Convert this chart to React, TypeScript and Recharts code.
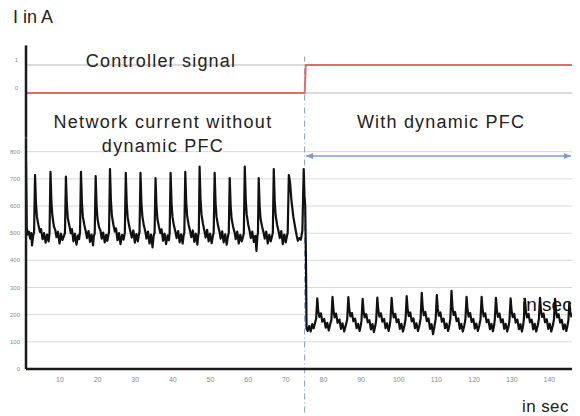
import React from 'react';
import { ComposedChart, Line, XAxis, YAxis, ReferenceLine } from 'recharts';

// ---- axis ticks ----
const timeTicks = [10, 20, 30, 40, 50, 60, 70, 80, 90, 100, 110, 120, 130, 140];
const currentTicks = [0, 100, 200, 300, 400, 500, 600, 700, 800];
const signalTicks = [0, 1];

// ---- controller signal (0 = off, 1 = dynamic PFC on) ----
const signalTimes = [1, 75, 75.3, 146];
const signalValues = [0, 0, 1, 1];

// ---- moment the PFC is switched on ----
const switchTime = 75;

// ---- span of the "with dynamic PFC" arrow ----
const arrowTimes = [75.4, 145.7];
const arrowLevel = 784;

// ---- network current without dynamic PFC [time s, current A] ----
const currentBefore: [number, number][] = [
  [1.0, 765], [1.2, 520], [1.5, 495], [1.8, 505], [2.1, 480], [2.4, 500], [2.6, 455], [2.9, 490], [3.15, 505],
  [3.4, 714], [3.65, 610], [3.9, 560], [4.3, 530], [4.7, 505], [5.0, 515], [5.4, 478], [5.8, 500], [6.2, 465], [6.6, 495], [7.0, 470], [7.25, 500],
  [7.5, 726], [7.75, 615], [8.0, 565], [8.4, 525], [8.8, 510], [9.1, 485], [9.5, 505], [9.9, 462], [10.3, 498], [10.7, 475], [11.1, 490], [11.35, 502],
  [11.6, 708], [11.85, 605], [12.1, 555], [12.5, 528], [12.9, 500], [13.2, 515], [13.6, 470], [14.0, 498], [14.4, 458], [14.8, 492], [15.1, 478], [15.35, 505],
  [15.6, 726], [15.85, 612], [16.1, 560], [16.5, 530], [16.9, 505], [17.2, 482], [17.6, 508], [18.0, 468], [18.4, 495], [18.8, 455], [19.0, 488], [19.25, 500],
  [19.5, 710], [19.75, 600], [20.0, 552], [20.4, 522], [20.8, 508], [21.1, 480], [21.5, 502], [21.9, 466], [22.3, 494], [22.6, 472], [22.85, 490], [23.05, 505],
  [23.3, 736], [23.55, 620], [23.8, 566], [24.2, 532], [24.6, 506], [24.9, 518], [25.3, 474], [25.7, 500], [26.1, 460], [26.5, 494], [26.9, 476], [27.25, 502],
  [27.5, 722], [27.75, 608], [28.0, 558], [28.4, 526], [28.8, 502], [29.1, 484], [29.5, 510], [29.9, 465], [30.3, 497], [30.7, 470], [30.95, 492], [31.15, 505],
  [31.4, 722], [31.65, 612], [31.9, 562], [32.3, 528], [32.7, 505], [33.0, 480], [33.4, 506], [33.8, 462], [34.2, 495], [34.6, 448], [34.9, 490], [35.15, 502],
  [35.4, 703], [35.65, 600], [35.9, 552], [36.3, 524], [36.7, 500], [37.0, 514], [37.4, 472], [37.8, 498], [38.2, 460], [38.6, 492], [38.95, 474], [39.15, 500],
  [39.4, 722], [39.65, 610], [39.9, 560], [40.3, 527], [40.7, 504], [41.0, 482], [41.4, 508], [41.8, 466], [42.2, 496], [42.6, 462], [42.85, 490], [43.05, 503],
  [43.3, 726], [43.55, 614], [43.8, 563], [44.2, 530], [44.6, 506], [44.9, 485], [45.3, 510], [45.7, 468], [46.1, 498], [46.5, 458], [46.75, 492], [46.9, 504],
  [47.1, 745], [47.35, 625], [47.6, 570], [48.0, 534], [48.4, 508], [48.7, 484], [49.1, 512], [49.5, 470], [49.9, 498], [50.3, 463], [50.65, 490], [50.85, 503],
  [51.1, 722], [51.35, 610], [51.6, 560], [52.0, 528], [52.4, 504], [52.7, 480], [53.1, 507], [53.5, 466], [53.9, 496], [54.3, 458], [54.65, 490], [54.85, 502],
  [55.1, 703], [55.35, 602], [55.6, 553], [56.0, 524], [56.4, 502], [56.7, 478], [57.1, 506], [57.5, 462], [57.9, 494], [58.3, 470], [58.65, 488], [58.85, 500],
  [59.1, 745], [59.35, 626], [59.6, 570], [60.0, 533], [60.4, 507], [60.7, 482], [61.1, 506], [61.5, 468], [61.9, 490], [62.2, 435], [62.45, 488], [62.6, 502],
  [62.8, 703], [63.05, 600], [63.3, 552], [63.7, 524], [64.1, 502], [64.4, 480], [64.8, 506], [65.2, 462], [65.6, 494], [66.0, 470], [66.35, 490], [66.55, 502],
  [66.8, 736], [67.05, 618], [67.3, 565], [67.7, 530], [68.1, 505], [68.4, 482], [68.8, 508], [69.2, 460], [69.6, 495], [70.0, 466], [70.3, 490], [70.5, 502],
  [70.8, 714], [71.1, 690], [71.5, 620], [72.0, 560], [72.5, 520], [72.9, 490], [73.2, 472], [73.6, 482], [74.0, 476], [74.4, 510],
  [74.75, 736], [74.95, 640], [75.15, 600], [75.35, 400],
];

// ---- network current with dynamic PFC [time s, current A] ----
const currentAfter: [number, number][] = [
  [75.5, 150], [75.8, 140], [76.2, 158], [76.6, 138], [77.0, 165], [77.4, 150], [77.8, 172], [78.05, 185],
  [78.35, 260], [78.6, 215], [78.9, 192], [79.3, 205], [79.7, 174], [80.2, 184], [80.6, 152], [81.0, 170], [81.4, 142], [81.8, 166], [82.1, 180],
  [82.4, 266], [82.65, 218], [82.95, 190], [83.35, 204], [83.75, 170], [84.25, 182], [84.65, 148], [85.05, 168], [85.5, 138], [85.95, 162], [86.3, 182],
  [86.6, 265], [86.85, 220], [87.15, 194], [87.55, 206], [87.95, 176], [88.4, 185], [88.8, 150], [89.2, 166], [89.6, 140], [89.9, 160], [90.1, 178],
  [90.4, 258], [90.65, 214], [90.95, 190], [91.35, 202], [91.75, 172], [92.2, 180], [92.6, 146], [93.0, 165], [93.4, 136], [93.75, 158], [94.0, 180],
  [94.3, 263], [94.55, 218], [94.85, 193], [95.25, 205], [95.65, 174], [96.1, 184], [96.5, 150], [96.9, 168], [97.3, 140], [97.6, 160], [97.8, 182],
  [98.1, 262], [98.35, 216], [98.65, 190], [99.05, 203], [99.45, 172], [99.9, 183], [100.3, 148], [100.7, 166], [101.1, 138], [101.5, 160], [101.8, 184],
  [102.1, 268], [102.35, 220], [102.65, 195], [103.05, 208], [103.45, 175], [103.9, 186], [104.3, 150], [104.7, 168], [105.1, 140], [105.5, 162], [105.8, 186],
  [106.1, 280], [106.35, 226], [106.65, 198], [107.05, 210], [107.45, 176], [107.9, 186], [108.3, 148], [108.7, 165], [109.1, 128], [109.5, 160], [109.8, 184],
  [110.1, 272], [110.35, 222], [110.65, 196], [111.05, 208], [111.45, 174], [111.9, 185], [112.3, 150], [112.7, 167], [113.1, 140], [113.45, 162], [113.7, 186],
  [114.0, 288], [114.25, 228], [114.55, 199], [114.95, 210], [115.35, 176], [115.8, 186], [116.2, 148], [116.6, 166], [117.0, 138], [117.4, 160], [117.7, 184],
  [118.0, 266], [118.25, 218], [118.55, 193], [118.95, 206], [119.35, 173], [119.8, 184], [120.2, 149], [120.6, 167], [121.0, 140], [121.4, 161], [121.7, 183],
  [122.0, 266], [122.25, 219], [122.55, 194], [122.95, 205], [123.35, 172], [123.8, 182], [124.2, 147], [124.6, 166], [125.0, 139], [125.3, 160], [125.5, 182],
  [125.8, 262], [126.05, 216], [126.35, 192], [126.75, 204], [127.15, 172], [127.6, 183], [128.0, 148], [128.4, 166], [128.8, 138], [129.2, 160], [129.4, 181],
  [129.7, 260], [129.95, 215], [130.25, 191], [130.65, 203], [131.05, 171], [131.5, 182], [131.9, 147], [132.3, 165], [132.7, 138], [133.0, 159], [133.2, 180],
  [133.5, 258], [133.75, 214], [134.05, 190], [134.45, 203], [134.85, 172], [135.3, 182], [135.7, 146], [136.1, 166], [136.5, 138], [136.9, 160], [137.2, 182],
  [137.5, 262], [137.75, 216], [138.05, 192], [138.45, 204], [138.85, 172], [139.3, 183], [139.7, 148], [140.1, 166], [140.5, 138], [140.9, 160], [141.2, 181],
  [141.5, 258], [141.75, 214], [142.05, 190], [142.45, 202], [142.85, 171], [143.3, 181], [143.7, 146], [144.1, 164], [144.5, 140], [144.8, 160], [145.05, 180],
  [145.3, 245], [145.55, 210], [145.9, 190],
];

const currentData = [...currentBefore, ...currentAfter].map(([t, a]) => ({ t, a }));
const signalData = signalTimes.map((t, i) => ({ t, s: signalValues[i] }));
const arrowData = arrowTimes.map((t) => ({ t, v: arrowLevel }));

const W = 580;
const H = 416;
const FONT = "'Liberation Sans', Arial, sans-serif";
const AXIS = '#1a1a1a';
const GRID = '#d9d9d9';
const TICK = '#8a8a8a';
const BLUE = '#7d9cc9';

const ArrowHead = (props: any) => {
  const { cx, cy, index } = props;
  if (cx == null || cy == null) return null;
  const d = index === 0
    ? `M${cx},${cy} L${cx + 7},${cy - 3} L${cx + 7},${cy + 3} Z`
    : `M${cx},${cy} L${cx - 7},${cy - 3} L${cx - 7},${cy + 3} Z`;
  return <path key={`ah-${index}`} d={d} fill={BLUE} stroke="none" />;
};

export default function App() {
  return (
    <div style={{ position: 'absolute', left: 0, top: 0, width: W, height: H, background: '#fff', fontFamily: FONT, overflow: 'hidden' }}>
      {/* network current */}
      <div style={{ position: 'absolute', left: 0, top: 0 }}>
        <ComposedChart width={W} height={H} data={currentData} margin={{ top: 138.1, right: 8, bottom: 17, left: 0 }}>
          <XAxis
            dataKey="t"
            type="number"
            domain={[1, 146]}
            ticks={timeTicks}
            allowDataOverflow
            height={30}
            tickLine={false}
            axisLine={{ stroke: AXIS, strokeWidth: 2.5 }}
            tick={{ fontSize: 7, fill: TICK, fontFamily: FONT }}
            tickMargin={2}
          />
          <YAxis
            type="number"
            domain={[0, 850]}
            ticks={currentTicks}
            allowDataOverflow
            width={26}
            tickLine={false}
            axisLine={{ stroke: AXIS, strokeWidth: 2.5 }}
            tick={{ fontSize: 6, fill: TICK, fontFamily: FONT }}
            tickMargin={0}
          />
          {currentTicks.filter((v) => v > 0).map((v) => (
            <ReferenceLine key={`g-${v}`} y={v} stroke={GRID} strokeWidth={1} />
          ))}
          <ReferenceLine
            segment={[{ x: switchTime, y: -160 }, { x: switchTime, y: 1150 }]}
            stroke={BLUE}
            strokeWidth={1}
            strokeDasharray="6 3 1 3"
            ifOverflow="visible"
          />
          <Line
            dataKey="a"
            type="linear"
            stroke="#111"
            strokeWidth={2.2}
            strokeLinejoin="round"
            dot={false}
            isAnimationActive={false}
          />
          <Line
            data={arrowData}
            dataKey="v"
            type="linear"
            stroke={BLUE}
            strokeWidth={1.6}
            dot={<ArrowHead />}
            activeDot={false}
            isAnimationActive={false}
          />
        </ComposedChart>
      </div>

      {/* controller signal */}
      <div style={{ position: 'absolute', left: 0, top: 0 }}>
        <ComposedChart width={W} height={150} data={signalData} margin={{ top: 45.4, right: 8, bottom: 12.2, left: 0 }}>
          <XAxis dataKey="t" type="number" domain={[1, 146]} hide allowDataOverflow />
          <YAxis
            type="number"
            domain={[-1.6, 1.7]}
            ticks={signalTicks}
            allowDataOverflow
            width={26}
            tickLine={false}
            axisLine={{ stroke: AXIS, strokeWidth: 2.5 }}
            tick={{ fontSize: 6, fill: TICK, fontFamily: FONT, dy: -5 }}
            tickMargin={2}
          />
          {signalTicks.map((v) => (
            <ReferenceLine key={`sg-${v}`} y={v} stroke="#cfcfcf" strokeWidth={1.5} />
          ))}
          <Line
            dataKey="s"
            type="linear"
            stroke="#e46a6a"
            strokeWidth={2}
            dot={false}
            isAnimationActive={false}
          />
        </ComposedChart>
      </div>

      {/* annotations */}
      <svg width={W} height={H} style={{ position: 'absolute', left: 0, top: 0, pointerEvents: 'none' }}>
        <g fontFamily={FONT} fill="#222">
          <text x={13} y={17} fontSize={18} dominantBaseline="central">I in A</text>
          <text x={161} y={61} fontSize={18} letterSpacing={1.2} textAnchor="middle" dominantBaseline="central">Controller signal</text>
          <text x={163} y={122} fontSize={18} letterSpacing={1.3} textAnchor="middle" dominantBaseline="central">Network current without</text>
          <text x={163} y={146} fontSize={18} letterSpacing={1.3} textAnchor="middle" dominantBaseline="central">dynamic PFC</text>
          <text x={441} y={122} fontSize={18} letterSpacing={1.2} textAnchor="middle" dominantBaseline="central">With dynamic PFC</text>
          <text x={522} y={304} fontSize={19} fill="#111" dominantBaseline="central">in sec</text>
          <text x={522} y={412} fontSize={17} letterSpacing={0.4}>in sec</text>
        </g>
      </svg>
    </div>
  );
}
